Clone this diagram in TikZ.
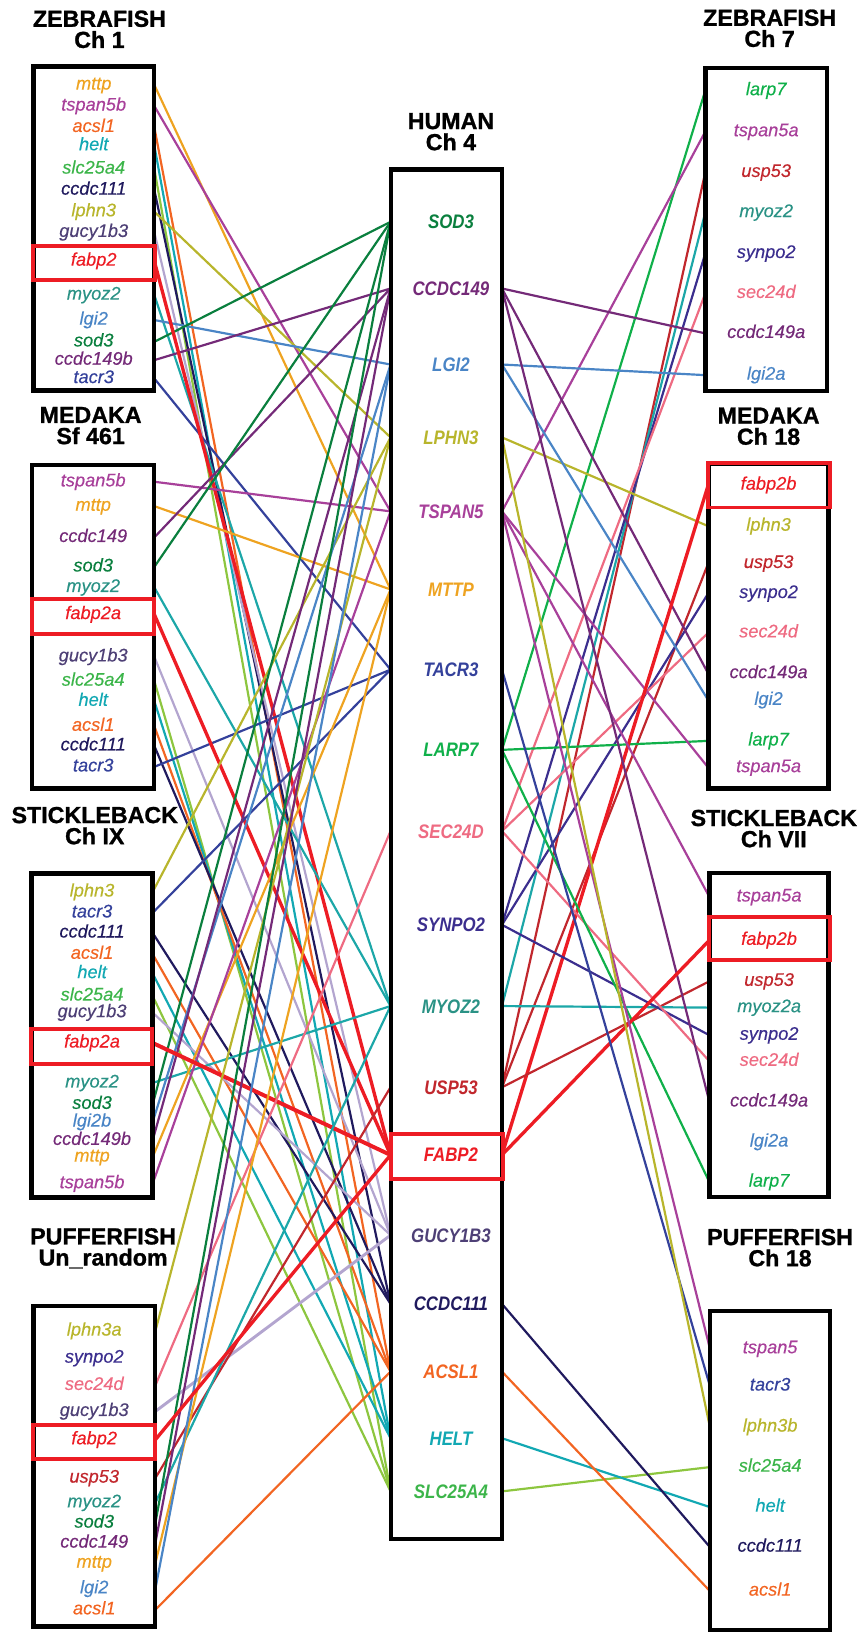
\documentclass[tikz,border=0pt]{standalone}
\usepackage{fontspec}
\setmainfont{Liberation Sans}
\newfontfamily\genefam[FakeBold=0.35]{Liberation Sans Italic}
\newfontfamily\humfam[FakeStretch=0.86]{Liberation Sans Bold Italic}
\newfontfamily\titlefam[FakeBold=1.1]{Liberation Sans Bold}
\definecolor{Cmttp}{HTML}{EEA321}
\definecolor{Ctspan}{HTML}{A8409A}
\definecolor{Cacsl}{HTML}{F26522}
\definecolor{Chelt}{HTML}{12A8B3}
\definecolor{Cslc}{HTML}{3CB54A}
\definecolor{CslcL}{HTML}{8DC63F}
\definecolor{Cccdcx}{HTML}{201A5E}
\definecolor{Clphn}{HTML}{B8B52C}
\definecolor{Cgucy}{HTML}{4E4076}
\definecolor{CgucyL}{HTML}{B3A5CF}
\definecolor{Cfabp}{HTML}{ED1C24}
\definecolor{Cmyoz}{HTML}{2A9285}
\definecolor{CmyozL}{HTML}{1CA7A8}
\definecolor{Clgi}{HTML}{4A85C6}
\definecolor{Csod}{HTML}{0A7F3E}
\definecolor{Cccdcn}{HTML}{742A78}
\definecolor{Ctacr}{HTML}{34419B}
\definecolor{Csynpo}{HTML}{3B2E8E}
\definecolor{Csec}{HTML}{EE6B82}
\definecolor{Cusp}{HTML}{C1272D}
\definecolor{Clarp}{HTML}{10B04A}
\begin{document}
\begin{tikzpicture}[x=1pt,y=-1pt,
  gene/.style={font=\genefam\fontsize{17.5}{17.5}\selectfont, inner sep=0pt, minimum width=#1, text height=12.5pt, text depth=3.7pt},
  hum/.style={font=\humfam\fontsize{18.8}{18.8}\selectfont, inner sep=0pt, minimum width=106.6pt, text height=13.4pt, text depth=0pt},
  title/.style={font=\titlefam\fontsize{22.3}{20.3}\selectfont, align=center, inner sep=0pt},
  ln/.style={line width=2.1pt},
  Lmttp/.style={ln, Cmttp}, Ltspan/.style={ln, Ctspan}, Lacsl/.style={ln, Cacsl},
  Lhelt/.style={ln, Chelt}, Lslc/.style={ln, CslcL}, Lccdcx/.style={ln, Cccdcx},
  Llphn/.style={ln, Clphn}, Lgucy/.style={ln, CgucyL}, Lfabp/.style={line width=3.2pt, Cfabp},
  Lmyoz/.style={ln, CmyozL}, Llgi/.style={ln, Clgi}, Lsod/.style={ln, Csod},
  Lccdcn/.style={ln, Cccdcn}, Ltacr/.style={ln, Ctacr}, Lsynpo/.style={ln, Csynpo},
  Lsec/.style={ln, Csec}, Lusp/.style={ln, Cusp}, Llarp/.style={ln, Clarp},
  frame/.style={line width=4.2pt, black},
  redframe/.style={line width=3.8pt, Cfabp}]
\useasboundingbox (0,0) rectangle (825,1568);

% ---------- titles ----------
\node[title] (tZ1) at (95.5,28.2) {ZEBRAFISH\\Ch 1};
\node[title] (tM1) at (87,408.7) {MEDAKA\\Sf 461};
\node[title] (tS1) at (91,792.8) {STICKLEBACK\\Ch IX};
\node[title] (tP1) at (99,1198.6) {PUFFERFISH\\Un\_random};
\node[title] (tH) at (433,126.5) {HUMAN\\Ch 4};
\node[title] (tZ7) at (739,27.2) {ZEBRAFISH\\Ch 7};
\node[title] (tM18) at (738,409.3) {MEDAKA\\Ch 18};
\node[title] (tS7) at (743,795.6) {STICKLEBACK\\Ch VII};
\node[title] (tP18) at (749,1198) {PUFFERFISH\\Ch 18};

% ---------- zebrafish ch 1 ----------
\node[gene=116, text=Cmttp]  (amttp)  at (90,81.6)  {mttp};
\node[gene=116, text=Ctspan] (atspan) at (90,101.8) {tspan5b};
\node[gene=116, text=Cacsl]  (aacsl)  at (90,122.3) {acsl1};
\node[gene=116, text=Chelt]  (ahelt)  at (90,139.9) {helt};
\node[gene=116, text=Cslc]   (aslc)   at (90,162.3) {slc25a4};
\node[gene=116, text=Cccdcx] (accdcx) at (90,182.5) {ccdc111};
\node[gene=116, text=Clphn]  (alphn)  at (90,203.3) {lphn3};
\node[gene=116, text=Cgucy]  (agucy)  at (90,223.1) {gucy1b3};
\node[gene=116, text=Cfabp]  (afabp)  at (90,250.7) {fabp2};
\node[gene=116, text=Cmyoz]  (amyoz)  at (90,283.3) {myoz2};
\node[gene=116, text=Clgi]   (algi)   at (90,307.3) {lgi2};
\node[gene=116, text=Csod]   (asod)   at (90,328.2) {sod3};
\node[gene=116, text=Cccdcn] (accdcn) at (90,345.8) {ccdc149b};
\node[gene=116, text=Ctacr]  (atacr)  at (90,363.4) {tacr3};

% ---------- medaka sf 461 ----------
\node[gene=117, text=Ctspan] (btspan) at (89.5,462.6) {tspan5b};
\node[gene=117, text=Cmttp]  (bmttp)  at (89.5,486)   {mttp};
\node[gene=117, text=Cccdcn] (bccdcn) at (89.5,516)   {ccdc149};
\node[gene=117, text=Csod]   (bsod)   at (89.5,544.3) {sod3};
\node[gene=117, text=Cmyoz]  (bmyoz)  at (89.5,564)   {myoz2};
\node[gene=117, text=Cfabp]  (bfabp)  at (89.5,590)   {fabp2a};
\node[gene=117, text=Cgucy]  (bgucy)  at (89.5,630.7) {gucy1b3};
\node[gene=117, text=Cslc]   (bslc)   at (89.5,654)   {slc25a4};
\node[gene=117, text=Chelt]  (bhelt)  at (89.5,673.3) {helt};
\node[gene=117, text=Cacsl]  (bacsl)  at (89.5,697.3) {acsl1};
\node[gene=117, text=Cccdcx] (bccdcx) at (89.5,716.2) {ccdc111};
\node[gene=117, text=Ctacr]  (btacr)  at (89.5,736.3) {tacr3};

% ---------- stickleback ch IX ----------
\node[gene=116, text=Clphn]  (clphn)  at (88.4,856.4)  {lphn3};
\node[gene=116, text=Ctacr]  (ctacr)  at (88.4,876.5)  {tacr3};
\node[gene=116, text=Cccdcx] (cccdcx) at (88.4,895.8)  {ccdc111};
\node[gene=116, text=Cacsl]  (cacsl)  at (88.4,916.2)  {acsl1};
\node[gene=116, text=Chelt]  (chelt)  at (88.4,934.8)  {helt};
\node[gene=116, text=Cslc]   (cslc)   at (88.4,956.3)  {slc25a4};
\node[gene=116, text=Cgucy]  (cgucy)  at (88.4,972.3)  {gucy1b3};
\node[gene=116, text=Cfabp]  (cfabp)  at (88.4,1001.4) {fabp2a};
\node[gene=116, text=Cmyoz]  (cmyoz)  at (88.4,1039.8) {myoz2};
\node[gene=116, text=Csod]   (csod)   at (88.4,1060.3) {sod3};
\node[gene=116, text=Clgi]   (clgi)   at (88.4,1077.3) {lgi2b};
\node[gene=116, text=Cccdcn] (cccdcn) at (88.4,1094.9) {ccdc149b};
\node[gene=116, text=Cmttp]  (cmttp)  at (88.4,1110.9) {mttp};
\node[gene=116, text=Ctspan] (ctspan) at (88.4,1136.5) {tspan5b};

% ---------- pufferfish un_random ----------
\node[gene=117, text=Clphn]  (dlphn)  at (90.5,1278)   {lphn3a};
\node[gene=117, text=Csynpo] (dsynpo) at (90.5,1304)   {synpo2};
\node[gene=117, text=Csec]   (dsec)   at (90.5,1330.2) {sec24d};
\node[gene=117, text=Cgucy]  (dgucy)  at (90.5,1355.2) {gucy1b3};
\node[gene=117, text=Cfabp]  (dfabp)  at (90.5,1382.4) {fabp2};
\node[gene=117, text=Cusp]   (dusp)   at (90.5,1419.2) {usp53};
\node[gene=117, text=Cmyoz]  (dmyoz)  at (90.5,1442.9) {myoz2};
\node[gene=117, text=Csod]   (dsod)   at (90.5,1462.4) {sod3};
\node[gene=117, text=Cccdcn] (dccdcn) at (90.5,1481.6) {ccdc149};
\node[gene=117, text=Cmttp]  (dmttp)  at (90.5,1500.9) {mttp};
\node[gene=117, text=Clgi]   (dlgi)   at (90.5,1525.5) {lgi2};
\node[gene=117, text=Cacsl]  (dacsl)  at (90.5,1545.7) {acsl1};

% ---------- human ch 4 ----------
\node[hum, text=Csod]   (hsod)   at (428.5,213)  {\hspace*{9pt}SOD3};
\node[hum, text=Cccdcn] (hccdcn) at (428.5,277)  {\hspace*{9pt}CCDC149};
\node[hum, text=Clgi]   (hlgi)   at (428.5,350)  {\hspace*{9pt}LGI2};
\node[hum, text=Clphn]  (hlphn)  at (428.5,420)  {\hspace*{9pt}LPHN3};
\node[hum, text=Ctspan] (htspan) at (428.5,491)  {\hspace*{9pt}TSPAN5};
\node[hum, text=Cmttp]  (hmttp)  at (428.5,566)  {\hspace*{9pt}MTTP};
\node[hum, text=Ctacr]  (htacr)  at (428.5,643)  {\hspace*{9pt}TACR3};
\node[hum, text=Clarp]  (hlarp)  at (428.5,720)  {\hspace*{9pt}LARP7};
\node[hum, text=Csec]   (hsec)   at (428.5,798)  {\hspace*{9pt}SEC24D};
\node[hum, text=Csynpo] (hsynpo) at (428.5,888)  {\hspace*{9pt}SYNPO2};
\node[hum, text=Cmyoz]  (hmyoz)  at (428.5,966)  {\hspace*{9pt}MYOZ2};
\node[hum, text=Cusp]   (husp)   at (428.5,1044) {\hspace*{9pt}USP53};
\node[hum, text=Cfabp]  (hfabp)  at (428.5,1109) {\hspace*{9pt}FABP2};
\node[hum, text=Cgucy]  (hgucy)  at (428.5,1186) {\hspace*{9pt}GUCY1B3};
\node[hum, text=Cccdcx] (hccdcx) at (428.5,1252) {\hspace*{9pt}CCDC111};
\node[hum, text=Cacsl]  (hacsl)  at (428.5,1317) {\hspace*{9pt}ACSL1};
\node[hum, text=Chelt]  (hhelt)  at (428.5,1381) {\hspace*{9pt}HELT};
\node[hum, text=Cslc]   (hslc)   at (428.5,1432) {\hspace*{9pt}SLC25A4};

% ---------- zebrafish ch 7 ----------
\node[gene=116.6, text=Clarp]  (elarp)  at (735.7,87)    {larp7};
\node[gene=116.6, text=Ctspan] (etspan) at (735.7,126.4) {tspan5a};
\node[gene=116.6, text=Cusp]   (eusp)   at (735.7,165.5) {usp53};
\node[gene=116.6, text=Cmyoz]  (emyoz)  at (735.7,204)   {myoz2};
\node[gene=116.6, text=Csynpo] (esynpo) at (735.7,243.3) {synpo2};
\node[gene=116.6, text=Csec]   (esec)   at (735.7,281.7) {sec24d};
\node[gene=116.6, text=Cccdcn] (eccdcn) at (735.7,320.1) {ccdc149a};
\node[gene=116.6, text=Clgi]   (elgi)   at (735.7,360.2) {lgi2a};

% ---------- medaka ch 18 ----------
\node[gene=115.6, text=Cfabp]  (ffabp)  at (738,465.8) {fabp2b};
\node[gene=115.6, text=Clphn]  (flphn)  at (738,505.2) {lphn3};
\node[gene=115.6, text=Cusp]   (fusp)   at (738,541)   {usp53};
\node[gene=115.6, text=Csynpo] (fsynpo) at (738,569.8) {synpo2};
\node[gene=115.6, text=Csec]   (fsec)   at (738,607.6) {sec24d};
\node[gene=115.6, text=Cccdcn] (fccdcn) at (738,646.7) {ccdc149a};
\node[gene=115.6, text=Clgi]   (flgi)   at (738,672.3) {lgi2};
\node[gene=115.6, text=Clarp]  (flarp)  at (738,711.4) {larp7};
\node[gene=115.6, text=Ctspan] (ftspan) at (738,737)   {tspan5a};

% ---------- stickleback ch VII ----------
\node[gene=114.3, text=Ctspan] (gtspan) at (738.5,861.2) {tspan5a};
\node[gene=114.3, text=Cfabp]  (gfabp)  at (738.5,902.8) {fabp2b};
\node[gene=114.3, text=Cusp]   (gusp)   at (738.5,942.2) {usp53};
\node[gene=114.3, text=Cmyoz]  (gmyoz)  at (738.5,967.5) {myoz2a};
\node[gene=114.3, text=Csynpo] (gsynpo) at (738.5,994)   {synpo2};
\node[gene=114.3, text=Csec]   (gsec)   at (738.5,1019)  {sec24d};
\node[gene=114.3, text=Cccdcn] (gccdcn) at (738.5,1058)  {ccdc149a};
\node[gene=114.3, text=Clgi]   (glgi)   at (738.5,1096.5){lgi2a};
\node[gene=114.3, text=Clarp]  (glarp)  at (738.5,1135)  {larp7};

% ---------- pufferfish ch 18 ----------
\node[gene=115.3, text=Ctspan] (ptspan) at (739.5,1295)   {tspan5};
\node[gene=115.3, text=Ctacr]  (ptacr)  at (739.5,1330.8) {tacr3};
\node[gene=115.3, text=Clphn]  (plphn)  at (739.5,1370.2) {lphn3b};
\node[gene=115.3, text=Cslc]   (pslc)   at (739.5,1408.7) {slc25a4};
\node[gene=115.3, text=Chelt]  (phelt)  at (739.5,1447.1) {helt};
\node[gene=115.3, text=Cccdcx] (pccdcx) at (739.5,1485.5) {ccdc111};
\node[gene=115.3, text=Cacsl]  (pacsl)  at (739.5,1527.7) {acsl1};

% ---------- connectors: left species to human ----------
\draw[Lmttp]  (amttp.east)  -- (hmttp.west);
\draw[Ltspan] (atspan.east) -- (htspan.west);
\draw[Lacsl]  (aacsl.east)  -- (hacsl.west);
\draw[Lhelt]  (ahelt.east)  -- (hhelt.west);
\draw[Lslc]   (aslc.east)   -- (hslc.west);
\draw[Lccdcx] (accdcx.east) -- (hccdcx.west);
\draw[Llphn]  (alphn.east)  -- (hlphn.west);
\draw[Lgucy]  (agucy.east)  -- (hgucy.west);
\draw[Lmyoz]  (amyoz.east)  -- (hmyoz.west);
\draw[Llgi]   (algi.east)   -- (hlgi.west);
\draw[Lsod]   (asod.east)   -- (hsod.west);
\draw[Lccdcn] (accdcn.east) -- (hccdcn.west);
\draw[Ltacr]  (atacr.east)  -- (htacr.west);
\draw[Lfabp]  (afabp.east)  -- (hfabp.west);

\draw[Ltspan] (btspan.east) -- (htspan.west);
\draw[Lmttp]  (bmttp.east)  -- (hmttp.west);
\draw[Lccdcn] (bccdcn.east) -- (hccdcn.west);
\draw[Lsod]   (bsod.east)   -- (hsod.west);
\draw[Lmyoz]  (bmyoz.east)  -- (hmyoz.west);
\draw[Lgucy]  (bgucy.east)  -- (hgucy.west);
\draw[Lslc]   (bslc.east)   -- (hslc.west);
\draw[Lhelt]  (bhelt.east)  -- (hhelt.west);
\draw[Lacsl]  (bacsl.east)  -- (hacsl.west);
\draw[Lccdcx] (bccdcx.east) -- (hccdcx.west);
\draw[Ltacr]  (btacr.east)  -- (htacr.west);
\draw[Lfabp]  (bfabp.east)  -- (hfabp.west);

\draw[Llphn]  (clphn.east)  -- (hlphn.west);
\draw[Ltacr]  (ctacr.east)  -- (htacr.west);
\draw[Lccdcx] (cccdcx.east) -- (hccdcx.west);
\draw[Lacsl]  (cacsl.east)  -- (hacsl.west);
\draw[Lhelt]  (chelt.east)  -- (hhelt.west);
\draw[Lslc]   (cslc.east)   -- (hslc.west);
\draw[Lgucy]  (cgucy.east)  -- (hgucy.west);
\draw[Lmyoz]  (cmyoz.east)  -- (hmyoz.west);
\draw[Lsod]   (csod.east)   -- (hsod.west);
\draw[Llgi]   (clgi.east)   -- (hlgi.west);
\draw[Lccdcn] (cccdcn.east) -- (hccdcn.west);
\draw[Lmttp]  (cmttp.east)  -- (hmttp.west);
\draw[Ltspan] (ctspan.east) -- (htspan.west);
\draw[Lfabp, line width=3.8pt] (cfabp.east) -- (hfabp.west);

\draw[Llphn]  (dlphn.east)  -- (hlphn.west);
\draw[Lsec]   (dsec.east)   -- (hsec.west);
\draw[Lgucy, line width=2.8pt] (dgucy.east) -- (hgucy.west);
\draw[Lusp]   (dusp.east)   -- (husp.west);
\draw[Lmyoz]  (dmyoz.east)  -- (hmyoz.west);
\draw[Lsod]   (dsod.east)   -- (hsod.west);
\draw[Lccdcn] (dccdcn.east) -- (hccdcn.west);
\draw[Lmttp]  (dmttp.east)  -- (hmttp.west);
\draw[Llgi]   (dlgi.east)   -- (hlgi.west);
\draw[Lacsl]  (dacsl.east)  -- (hacsl.west);
\draw[Lfabp]  (dfabp.east)  -- (hfabp.west);

% ---------- connectors: right species to human ----------
\draw[Llarp]  (elarp.west)  -- (hlarp.east);
\draw[Ltspan] (etspan.west) -- (htspan.east);
\draw[Lusp]   (eusp.west)   -- (husp.east);
\draw[Lmyoz]  (emyoz.west)  -- (hmyoz.east);
\draw[Lsynpo] (esynpo.west) -- (hsynpo.east);
\draw[Lsec]   (esec.west)   -- (hsec.east);
\draw[Lccdcn] (eccdcn.west) -- (hccdcn.east);
\draw[Llgi]   (elgi.west)   -- (hlgi.east);

\draw[Llphn]  (flphn.west)  -- (hlphn.east);
\draw[Lusp]   (fusp.west)   -- (husp.east);
\draw[Lsynpo] (fsynpo.west) -- (hsynpo.east);
\draw[Lsec]   (fsec.west)   -- (hsec.east);
\draw[Lccdcn] (fccdcn.west) -- (hccdcn.east);
\draw[Llgi]   (flgi.west)   -- (hlgi.east);
\draw[Llarp]  (flarp.west)  -- (hlarp.east);
\draw[Ltspan] (ftspan.west) -- (htspan.east);
\draw[Lfabp]  (ffabp.west)  -- (hfabp.east);

\draw[Ltspan] (gtspan.west) -- (htspan.east);
\draw[Lusp]   (gusp.west)   -- (husp.east);
\draw[Lmyoz]  (gmyoz.west)  -- (hmyoz.east);
\draw[Lsynpo] (gsynpo.west) -- (hsynpo.east);
\draw[Lsec]   (gsec.west)   -- (hsec.east);
\draw[Lccdcn] (gccdcn.west) -- (hccdcn.east);
\draw[Llarp]  (glarp.west)  -- (hlarp.east);
\draw[Lfabp]  (gfabp.west)  -- (hfabp.east);

\draw[Ltspan] (ptspan.west) -- (htspan.east);
\draw[Ltacr]  (ptacr.west)  -- (htacr.east);
\draw[Llphn]  (plphn.west)  -- (hlphn.east);
\draw[Lslc]   (pslc.west)   -- (hslc.east);
\draw[Lhelt]  (phelt.west)  -- (hhelt.east);
\draw[Lccdcx] (pccdcx.west) -- (hccdcx.east);
\draw[Lacsl]  (pacsl.west)  -- (hacsl.east);

% ---------- frames ----------
\draw[frame] (32,64) rectangle (148,375);
\draw[frame] (31,446.6) rectangle (148,757);
\draw[frame] (30.4,838.8) rectangle (146.3,1150);
\draw[frame] (32,1254.3) rectangle (148.9,1561.7);
\draw[frame] (375.2,162.6) rectangle (481.8,1478);
\draw[frame] (677.4,65) rectangle (794,375.2);
\draw[frame] (680.3,445) rectangle (795.6,757.2);
\draw[frame] (681.3,838.1) rectangle (795.6,1149.3);
\draw[frame] (681.9,1259.1) rectangle (797.2,1565);

\draw[redframe] (32,236) rectangle (149,269);
\draw[redframe] (31,575.6) rectangle (148,609.2);
\draw[redframe] (29.5,987.6) rectangle (146.3,1021.3);
\draw[redframe] (32,1368.6) rectangle (149,1401.3);
\draw[redframe] (375,1088.5) rectangle (483,1131.6);
\draw[redframe] (680,445) rectangle (797,487.3);
\draw[redframe] (681,880.4) rectangle (797,922);
\end{tikzpicture}
\end{document}
